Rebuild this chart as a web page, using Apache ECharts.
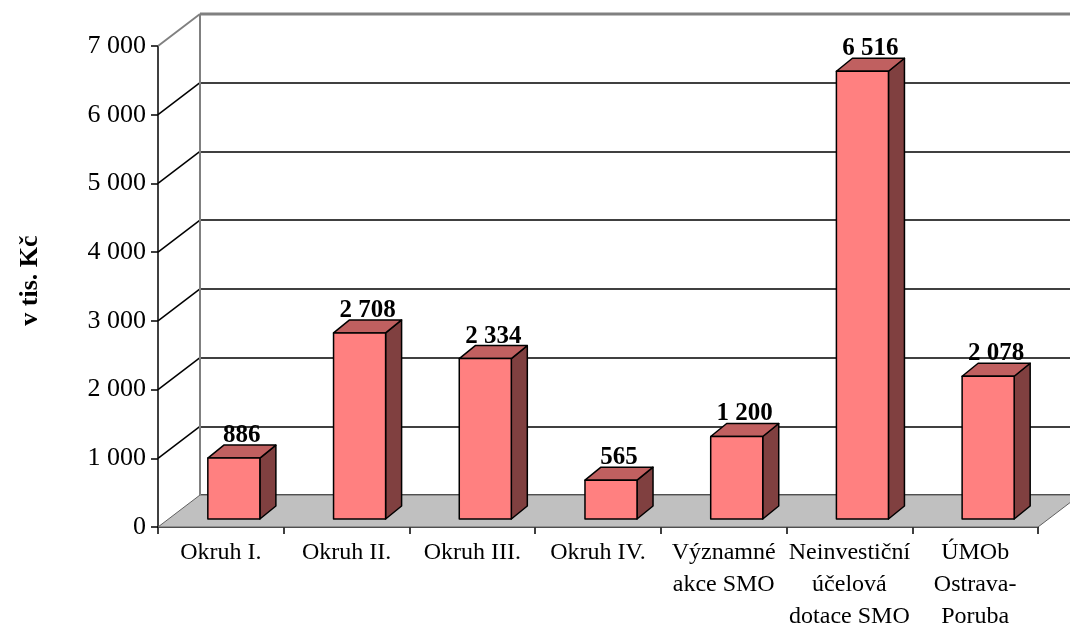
<!DOCTYPE html>
<html>
<head>
<meta charset="utf-8">
<script src="https://cdn.jsdelivr.net/npm/echarts@6/dist/echarts.min.js"></script>
<style>
  html, body { margin: 0; padding: 0; background: #fff; }
  #chart { width: 1070px; height: 633px; }
</style>
</head>
<body>
<div id="chart"></div>
<script>
var categories = ['Okruh I.', 'Okruh II.', 'Okruh III.', 'Okruh IV.',
    'Významné\nakce SMO', 'Neinvestiční\núčelová\ndotace SMO', 'ÚMOb\nOstrava-\nPoruba'];
var values = [886, 2708, 2334, 565, 1200, 6516, 2078];
var yTicks = [0, 1000, 2000, 3000, 4000, 5000, 6000, 7000];

var FONT = '"Liberation Serif", "Times New Roman", serif';
// 3D offsets (pixels)
var WALL_DX = 42, WALL_DY = 32;   // depth of the whole plot box
var BAR_SX = 13, BAR_SY = 8;      // bar front face pushed back from the front plane
var BAR_DX = 16, BAR_DY = 13;     // depth of one bar

function fmt(v) {
    return String(v).replace(/\B(?=(\d{3})+(?!\d))/g, ' ');
}

var chart = echarts.init(document.getElementById('chart'), null, { renderer: 'canvas' });

function renderWalls(params, api) {
    var band = api.size([1, 0])[0];
    var left = api.coord([0, 0])[0] - band / 2;
    var right = api.coord([categories.length - 1, 0])[0] + band / 2;
    var y0 = api.coord([0, 0])[1];
    var yTop = api.coord([0, yTicks[yTicks.length - 1]])[1];
    var children = [];
    // floor
    children.push({
        type: 'polygon',
        shape: { points: [[left, y0], [right, y0], [right + WALL_DX, y0 - WALL_DY], [left + WALL_DX, y0 - WALL_DY]] },
        style: { fill: '#c0c0c0', stroke: '#606060', lineWidth: 1 }
    });
    // left wall diagonals
    yTicks.forEach(function (t, k) {
        if (t === 0) return;
        var y = api.coord([0, t])[1];
        var last = k === yTicks.length - 1;
        children.push({
            type: 'line',
            shape: { x1: left, y1: y, x2: left + WALL_DX, y2: y - WALL_DY },
            style: { stroke: last ? '#808080' : '#000', lineWidth: last ? 2 : 1.5 }
        });
    });
    // back wall frame
    children.push({
        type: 'line',
        shape: { x1: left + WALL_DX, y1: y0 - WALL_DY, x2: left + WALL_DX, y2: yTop - WALL_DY },
        style: { stroke: '#808080', lineWidth: 2 }
    });
    children.push({
        type: 'line',
        shape: { x1: left + WALL_DX, y1: yTop - WALL_DY, x2: right + WALL_DX + 10, y2: yTop - WALL_DY },
        style: { stroke: '#808080', lineWidth: 3 }
    });
    return { type: 'group', children: children };
}

function renderBar(params, api) {
    var i = api.value(0), v = api.value(1);
    var base = api.coord([i, 0]);
    var top = api.coord([i, v]);
    var band = api.size([1, 0])[0];
    var hw = band * 0.207;
    var x1 = base[0] - hw + BAR_SX, x2 = base[0] + hw + BAR_SX;
    var yb = base[1] - BAR_SY, yt = top[1] - BAR_SY;
    var line = { stroke: '#000', lineWidth: 1.5, lineJoin: 'round' };
    return {
        type: 'group',
        children: [
            {
                type: 'polygon',
                shape: { points: [[x2, yb], [x2, yt], [x2 + BAR_DX, yt - BAR_DY], [x2 + BAR_DX, yb - BAR_DY]] },
                style: Object.assign({ fill: '#804040' }, line)
            },
            {
                type: 'polygon',
                shape: { points: [[x1, yt], [x2, yt], [x2 + BAR_DX, yt - BAR_DY], [x1 + BAR_DX, yt - BAR_DY]] },
                style: Object.assign({ fill: '#c06060' }, line)
            },
            {
                type: 'rect',
                shape: { x: x1, y: yt, width: x2 - x1, height: yb - yt },
                style: Object.assign({ fill: '#ff8080' }, line)
            },
            {
                type: 'text',
                style: {
                    x: (x1 + x2) / 2 + BAR_DX / 2,
                    y: yt - BAR_DY + 3,
                    text: fmt(v),
                    font: 'bold 25px ' + FONT,
                    fill: '#000',
                    align: 'center',
                    verticalAlign: 'bottom'
                }
            }
        ]
    };
}

var option = {
    animation: false,
    grid: [
        { left: 158, right: 32, top: 46, bottom: 106 },
        { left: 200, right: -10, top: 14, bottom: 138 }
    ],
    xAxis: [
        {
            type: 'category',
            gridIndex: 0,
            data: categories,
            axisLine: { lineStyle: { color: '#000', width: 1.5 } },
            axisTick: { show: true, length: 7, lineStyle: { color: '#000', width: 1.5 } },
            axisLabel: {
                interval: 0,
                color: '#000',
                fontFamily: FONT,
                fontSize: 24,
                lineHeight: 32,
                margin: 10
            }
        },
        { type: 'category', gridIndex: 1, data: categories, show: false }
    ],
    yAxis: [
        {
            type: 'value',
            gridIndex: 0,
            min: 0,
            max: 7000,
            interval: 1000,
            name: 'v tis. Kč',
            nameLocation: 'middle',
            nameRotate: 90,
            nameGap: 115,
            nameTextStyle: { color: '#000', fontFamily: FONT, fontSize: 26, fontWeight: 'bold', padding: [0, 0, 0, 12] },
            axisLine: { show: true, lineStyle: { color: '#000', width: 1.5 } },
            axisTick: { show: true, length: 7, lineStyle: { color: '#000', width: 1.5 } },
            axisLabel: { color: '#000', fontFamily: FONT, fontSize: 26, margin: 12, formatter: fmt },
            splitLine: { show: false }
        },
        {
            type: 'value',
            gridIndex: 1,
            min: 0,
            max: 7000,
            interval: 1000,
            axisLine: { show: false },
            axisTick: { show: false },
            axisLabel: { show: false },
            splitLine: { show: true, lineStyle: { color: '#000', width: 1.5 } }
        }
    ],
    series: [
        {
            type: 'custom',
            xAxisIndex: 0,
            yAxisIndex: 0,
            z: 1,
            silent: true,
            renderItem: renderWalls,
            data: [[0, 0]]
        },
        {
            type: 'custom',
            xAxisIndex: 0,
            yAxisIndex: 0,
            z: 3,
            renderItem: renderBar,
            encode: { x: 0, y: 1 },
            data: values.map(function (v, i) { return [i, v]; })
        }
    ]
};
chart.setOption(option);
</script>
</body>
</html>
